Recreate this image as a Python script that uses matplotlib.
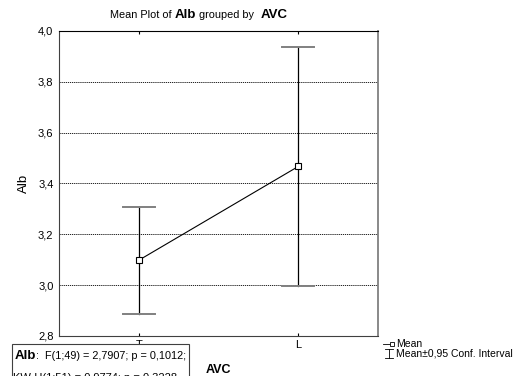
import matplotlib
matplotlib.use('Agg')
import matplotlib.pyplot as plt
from matplotlib.lines import Line2D
from matplotlib.patches import Rectangle

plt.rcParams['font.family'] = ['Liberation Sans', 'DejaVu Sans']

groups = ['T', 'L']
means = [3.098, 3.467]
lower = [2.888, 2.996]
upper = [3.308, 3.937]
y_ticks = [2.8, 3.0, 3.2, 3.4, 3.6, 3.8, 4.0]
y_labels = ['2,8', '3,0', '3,2', '3,4', '3,6', '3,8', '4,0']

fig = plt.figure(figsize=(5.15, 3.76), dpi=100)
ax = fig.add_axes([0.1146, 0.1064, 0.6194, 0.8112])

x = list(range(len(groups)))
# error bars: black stem, grey caps
for xi, lo, hi in zip(x, lower, upper):
    ax.plot([xi, xi], [lo, hi], color='black', lw=0.9, zorder=2)
    ax.plot([xi - 0.1, xi + 0.1], [lo, lo], color='#808080', lw=1.4, zorder=2)
    ax.plot([xi - 0.1, xi + 0.1], [hi, hi], color='#808080', lw=1.4, zorder=2)
ax.plot(x, means, color='black', lw=0.8, marker='s', ms=4.5, mfc='white',
        mec='black', mew=0.8, zorder=3)

ax.set_xlim(-0.5, 1.5)
ax.set_ylim(2.8, 4.0)
ax.set_yticks(y_ticks)
ax.set_yticklabels(y_labels, fontsize=8)
ax.set_xticks(x)
ax.set_xticklabels(groups, fontsize=8)
ax.tick_params(axis='y', length=0, pad=4)
ax.tick_params(axis='x', direction='in', length=2, top=True, pad=3, width=0.8)
for g in [3.0, 3.2, 3.4, 3.6, 3.8]:
    ax.axhline(g, color='black', lw=0.6, ls=(0, (1.5, 1)), zorder=1)
for side in ['left', 'bottom']:
    ax.spines[side].set_color('#404040')
ax.spines['top'].set_color('black')
ax.spines['right'].set_color('#808080')
ax.spines['right'].set_linewidth(1.3)
ax.set_ylabel('Alb', fontsize=9.5, labelpad=6)

# title made of mixed-size pieces
parts = [('Mean Plot of ', 7.8, 'normal'), ('Alb', 9.5, 'bold'),
         (' grouped by  ', 7.8, 'normal'), ('AVC', 9.5, 'bold')]
renderer = fig.canvas.get_renderer()
texts = []
for s, fs, fw in parts:
    t = fig.text(0, 0.953, s, fontsize=fs, fontweight=fw, va='baseline')
    texts.append(t)
widths = [t.get_window_extent(renderer).width / fig.bbox.width for t in texts]
xpos = 0.3864 - sum(widths) / 2
for t, w in zip(texts, widths):
    t.set_x(xpos)
    xpos += w

# x axis label
fig.text(0.4243, 0.008, 'AVC', fontsize=9, fontweight='bold', ha='center', va='baseline')

# stats box (clipped by figure edge)
fig.patches.append(Rectangle((0.023, -0.05), 0.344, 0.135, transform=fig.transFigure,
                             fc='white', ec='#404040', lw=0.8, zorder=5))
t1 = fig.text(0.029, 0.045, 'Alb', fontsize=9.5, fontweight='bold', zorder=6, va='baseline')
w1 = t1.get_window_extent(renderer).width / fig.bbox.width
fig.text(0.029 + w1, 0.045, ':  F(1;49) = 2,7907; p = 0,1012;', fontsize=7.8, zorder=6,
         va='baseline')
fig.text(0.025, -0.013, 'KW-H(1;51) = 0,9774; p = 0,3228', fontsize=8, zorder=6,
         va='baseline')

# legend
lx = 0.755
fig.lines.append(Line2D([lx - 0.011, lx + 0.007], [0.085, 0.085], transform=fig.transFigure,
                        color='black', lw=0.6, marker='s', ms=3.5, mfc='white',
                        mec='black', mew=0.6, markevery=[1]))
fig.text(lx + 0.014, 0.085, 'Mean', fontsize=7.5, va='center')
fig.lines.append(Line2D([lx, lx], [0.048, 0.071], transform=fig.transFigure, color='black', lw=0.6))
fig.lines.append(Line2D([lx - 0.008, lx + 0.008], [0.048, 0.048], transform=fig.transFigure, color='black', lw=0.6))
fig.lines.append(Line2D([lx - 0.008, lx + 0.008], [0.071, 0.071], transform=fig.transFigure, color='black', lw=0.6))
fig.text(lx + 0.014, 0.059, 'Mean\u00b10,95 Conf. Interval', fontsize=7.5, va='center')

fig.savefig('out.png', dpi=100)
